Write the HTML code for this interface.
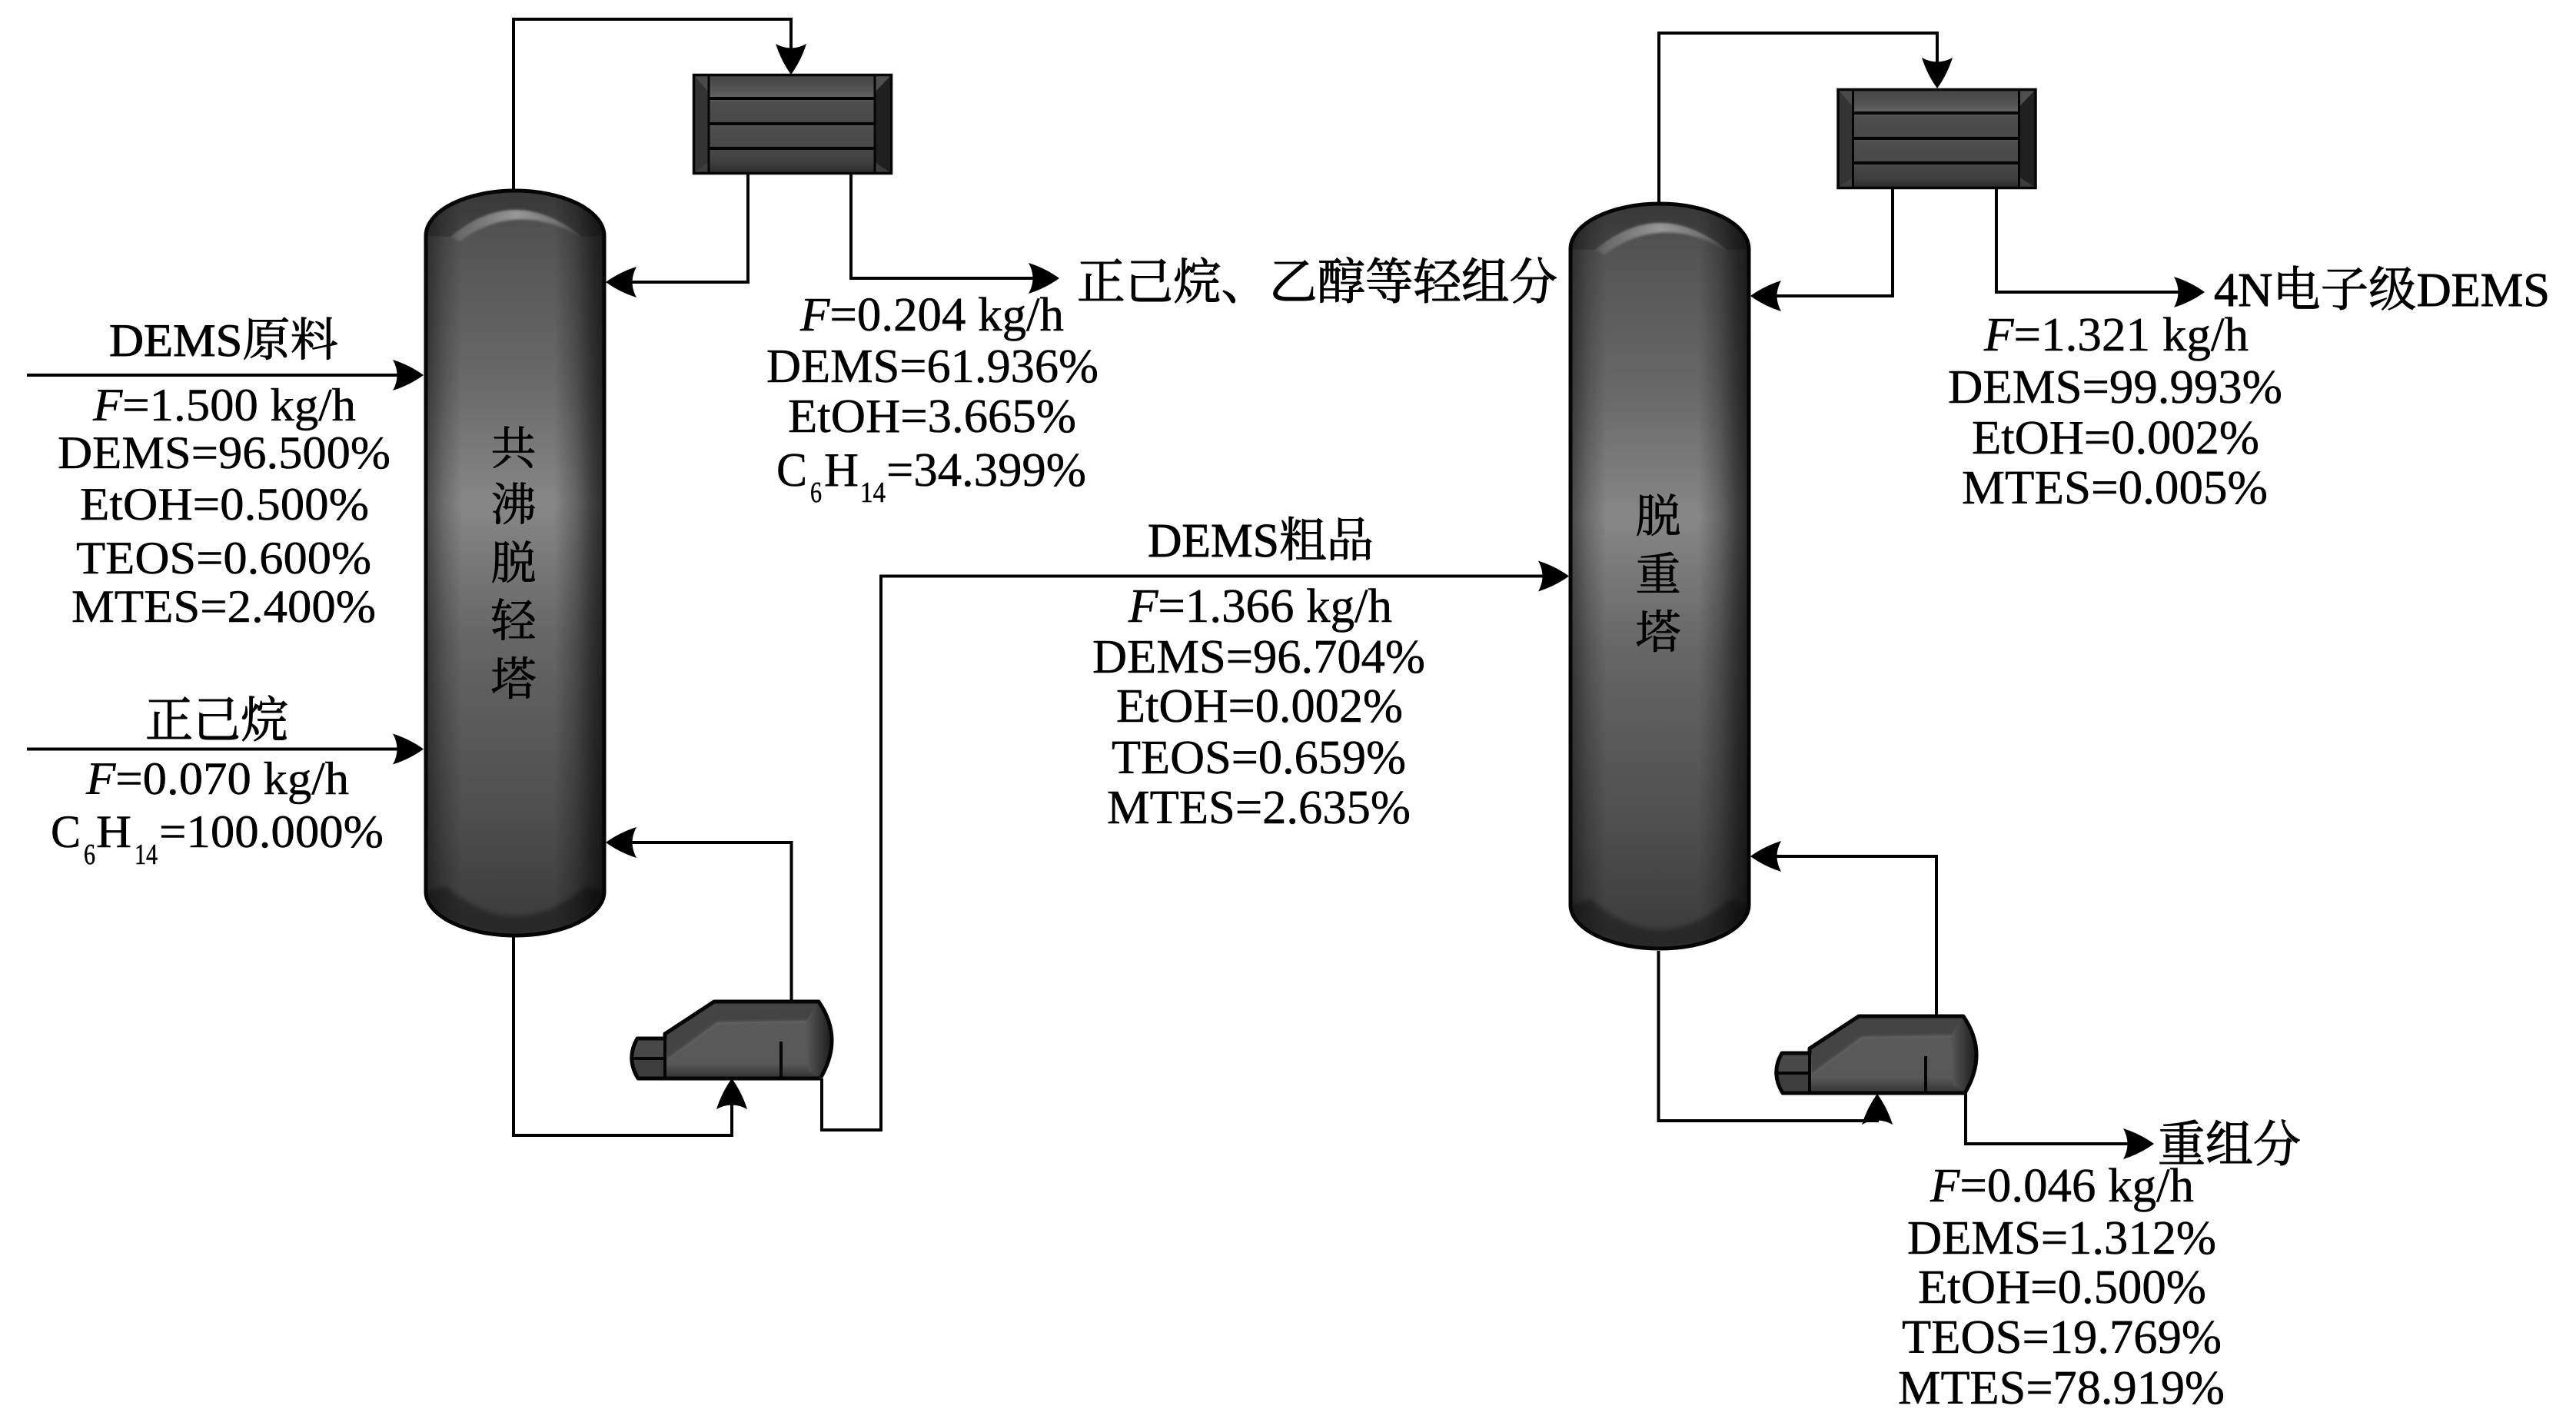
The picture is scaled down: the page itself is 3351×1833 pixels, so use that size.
<!DOCTYPE html>
<html><head><meta charset="utf-8"><title>DEMS flow diagram</title>
<style>
html,body{margin:0;padding:0;background:#fff;width:3351px;height:1833px;overflow:hidden}
svg{display:block}
text{font-family:"Liberation Serif","Noto Serif CJK SC",serif;fill:#000;font-size:62px;stroke:#000;stroke-width:.5px}
.l{font-size:60px}
.s{font-size:38px}
.c{font-size:59px;text-anchor:middle;stroke-width:.8px}
.z{font-size:64px;stroke-width:1.1px}
.p{fill:none;stroke:#000;stroke-width:4;stroke-linejoin:miter}
</style></head><body>
<svg xmlns="http://www.w3.org/2000/svg" width="3351" height="1833" viewBox="0 0 3351 1833">
<defs>
<filter id="b2" x="-10%" y="-10%" width="120%" height="120%"><feGaussianBlur stdDeviation="3"/></filter>
<filter id="b1" x="-10%" y="-10%" width="120%" height="120%"><feGaussianBlur stdDeviation="1.5"/></filter>
<linearGradient id="cv" x1="0" y1="0" x2="0" y2="1">
<stop offset="0" stop-color="#4a4a4a"/><stop offset=".07" stop-color="#585858"/><stop offset=".25" stop-color="#6c6c6c"/><stop offset=".42" stop-color="#8c8c8c"/><stop offset=".6" stop-color="#6a6a6a"/><stop offset=".85" stop-color="#505050"/><stop offset="1" stop-color="#3c3c3c"/>
</linearGradient>
<linearGradient id="ch" x1="0" y1="0" x2="1" y2="0">
<stop offset="0" stop-color="#000" stop-opacity=".5"/><stop offset=".1" stop-color="#000" stop-opacity=".22"/><stop offset=".2" stop-color="#000" stop-opacity=".04"/><stop offset=".72" stop-color="#000" stop-opacity=".04"/><stop offset=".84" stop-color="#000" stop-opacity=".28"/><stop offset=".93" stop-color="#000" stop-opacity=".55"/><stop offset="1" stop-color="#000" stop-opacity=".7"/>
</linearGradient>
<linearGradient id="hl" x1="0" y1="0" x2="1" y2="0">
<stop offset="0" stop-color="#fff" stop-opacity=".08"/><stop offset=".5" stop-color="#fff" stop-opacity=".42"/><stop offset="1" stop-color="#fff" stop-opacity=".08"/>
</linearGradient>
<linearGradient id="t1" x1="0" y1="0" x2="0" y2="1"><stop offset="0" stop-color="#424242"/><stop offset=".7" stop-color="#565656"/><stop offset="1" stop-color="#666"/></linearGradient>
<linearGradient id="t2" x1="0" y1="0" x2="0" y2="1"><stop offset="0" stop-color="#5e5e5e"/><stop offset=".15" stop-color="#4e4e4e"/><stop offset="1" stop-color="#484848"/></linearGradient>
<linearGradient id="t3" x1="0" y1="0" x2="0" y2="1"><stop offset="0" stop-color="#4a4a4a"/><stop offset=".6" stop-color="#3e3e3e"/><stop offset="1" stop-color="#262626"/></linearGradient>
<linearGradient id="rr" x1="0" y1="0" x2="1" y2="0"><stop offset="0" stop-color="#585858"/><stop offset="1" stop-color="#1c1c1c"/></linearGradient>
<linearGradient id="rb" x1="0" y1="0" x2="0" y2="1"><stop offset="0" stop-color="#5c5c5c"/><stop offset=".8" stop-color="#585858"/><stop offset="1" stop-color="#333"/></linearGradient>
<g id="col">
<path d="M2 61A116 59 0 0 1 234 61V914A116 57 0 0 1 2 914Z" fill="url(#cv)"/>
<path d="M2 61A116 59 0 0 1 234 61V914A116 57 0 0 1 2 914Z" fill="url(#ch)"/>
<path d="M4 61A114 57 0 0 1 232 61L205 62Q118 -8 34 62Z" fill="#000" opacity=".2"/>
<path d="M34 62Q118 -8 205 62Q118 14 46 68Z" fill="url(#hl)" filter="url(#b1)"/>
<path d="M3 914A115 56 0 0 0 233 914L210 907Q118 985 28 907Z" fill="#000" opacity=".32" filter="url(#b2)"/>
<path d="M2 61A116 59 0 0 1 234 61V914A116 57 0 0 1 2 914Z" fill="none" stroke="#050505" stroke-width="5"/>
</g>
<g id="cond">
<rect x="0" y="0" width="260" height="131" fill="#1e1e1e"/>
<rect x="21" y="0" width="216" height="32" fill="url(#t1)"/>
<rect x="21" y="32" width="216" height="33" fill="url(#t2)"/>
<rect x="21" y="65" width="216" height="32" fill="url(#t2)"/>
<rect x="21" y="97" width="216" height="34" fill="url(#t3)"/>
<rect x="2" y="2" width="19" height="127" fill="#343434"/>
<rect x="237" y="2" width="21" height="127" fill="#202020"/>
<path d="M2 2L21 24V2Z" fill="#4a4a4a"/>
<path d="M2 129L21 115V129Z" fill="#3e3e3e"/>
<path d="M258 2L237 24V2Z" fill="#4e4e4e"/>
<path d="M258 129L237 115V129Z" fill="#3c3c3c"/>
<g stroke="#050505" fill="none">
<rect x="1.5" y="1.5" width="257" height="128" stroke-width="3.5"/>
<path d="M21 0V131M237 0V131" stroke-width="3"/>
<path d="M21 32H237M21 65H237M21 97H237" stroke-width="4"/>
</g>
</g>
<g id="reb">
<path d="M109 0L245 0Q278 48 247 100L10 100Q-6 74 9 48L45 48L45 42Z" fill="url(#rb)"/>
<path d="M46 42L109 0L245 0L229 25L113 27L48 75Z" fill="#444"/>
<path d="M48 75L113 27L229 25" fill="none" stroke="#6c6c6c" stroke-width="3" opacity=".5" filter="url(#b1)"/>
<path d="M245 0Q278 48 247 100L232 90L229 25Z" fill="url(#rr)"/>
<path d="M9 48L45 48V74H2Q3 60 9 48Z" fill="#484848"/>
<path d="M2 76H45V100H10Q3 90 2 76Z" fill="#3e3e3e"/>
<path d="M109 0L245 0Q278 48 247 100L10 100Q-6 74 9 48L45 48L45 42Z" fill="none" stroke="#050505" stroke-width="5" stroke-linejoin="round"/>
<path d="M45 40V100M196 52V100" fill="none" stroke="#050505" stroke-width="4"/>
<path d="M2 74H45" fill="none" stroke="#050505" stroke-width="4"/>
</g>
<path id="ar" d="M0 0Q-18 -13 -40 -20Q-29 0 -40 20Q-18 13 0 0Z" fill="#000"/>
</defs>

<!-- pipes -->
<polyline class="p" points="668,246 668,25 1029,25 1029,70"/>
<polyline class="p" points="973,227 973,367 815,367"/>
<polyline class="p" points="1107,227 1107,362 1350,362"/>
<polyline class="p" points="1029.5,1303 1029.5,1096 815,1096"/>
<polyline class="p" points="668,1219 668,1477 952,1477 952,1430"/>
<polyline class="p" points="1069,1403 1069,1470 1146,1470 1146,749.5 2010,749.5"/>
<path class="p" d="M35 488H520M35 974.5H520"/>
<polyline class="p" points="2158,263 2158,43 2520,43 2520,90"/>
<polyline class="p" points="2462,245 2462,385 2305,385"/>
<polyline class="p" points="2597,245 2597,380 2840,380"/>
<polyline class="p" points="2519,1322 2519,1114 2305,1114"/>
<polyline class="p" points="2157.5,1237 2157.5,1458 2442,1458 2442,1445"/>
<polyline class="p" points="2557,1422 2557,1488 2775,1488"/>

<use href="#col" x="552" y="246"/>
<use href="#col" x="2041" y="263"/>
<use href="#cond" x="901" y="96"/>
<use href="#cond" x="2389.5" y="115"/>
<use href="#reb" x="820" y="1303"/>
<use href="#reb" x="2309" y="1322"/>

<!-- arrowheads -->
<use href="#ar" transform="translate(551 488)"/>
<use href="#ar" transform="translate(551 974.5)"/>
<use href="#ar" transform="translate(1029 97) rotate(90)"/>
<use href="#ar" transform="translate(788 367) rotate(180)"/>
<use href="#ar" transform="translate(1378 362)"/>
<use href="#ar" transform="translate(788 1096) rotate(180)"/>
<use href="#ar" transform="translate(952 1403) rotate(-90)"/>
<use href="#ar" transform="translate(2041 749.5)"/>
<use href="#ar" transform="translate(2520 115) rotate(90)"/>
<use href="#ar" transform="translate(2277 385) rotate(180)"/>
<use href="#ar" transform="translate(2868 380)"/>
<use href="#ar" transform="translate(2277 1114) rotate(180)"/>
<use href="#ar" transform="translate(2442 1423) rotate(-90)"/>
<use href="#ar" transform="translate(2802 1488)"/>

<!-- column labels -->
<text class="c" x="668" y="604">共</text>
<text class="c" x="668" y="677">沸</text>
<text class="c" x="668" y="753">脱</text>
<text class="c" x="668" y="828">轻</text>
<text class="c" x="668" y="904">塔</text>
<text class="c" x="2157" y="692">脱</text>
<text class="c" x="2157" y="768">重</text>
<text class="c" x="2157" y="843">塔</text>

<!-- feed 1 -->
<text class="l" x="142" y="463" textLength="298" lengthAdjust="spacingAndGlyphs" style="stroke-width:.9px">DEMS原料</text>
<text class="l" x="121" y="547" textLength="342" lengthAdjust="spacingAndGlyphs"><tspan font-style="italic">F</tspan>=1.500 kg/h</text>
<text class="l" x="75" y="609" textLength="433" lengthAdjust="spacingAndGlyphs">DEMS=96.500%</text>
<text class="l" x="104" y="676" textLength="376" lengthAdjust="spacingAndGlyphs">EtOH=0.500%</text>
<text class="l" x="99" y="746" textLength="384" lengthAdjust="spacingAndGlyphs">TEOS=0.600%</text>
<text class="l" x="93" y="809" textLength="396" lengthAdjust="spacingAndGlyphs">MTES=2.400%</text>
<!-- feed 2 -->
<text class="z" x="189" y="959" textLength="186" lengthAdjust="spacingAndGlyphs">正己烷</text>
<text class="l" x="112" y="1033" textLength="342" lengthAdjust="spacingAndGlyphs"><tspan font-style="italic">F</tspan>=0.070 kg/h</text>
<text class="l" x="66" y="1102" textLength="39" lengthAdjust="spacingAndGlyphs">C</text>
<text class="s" x="109" y="1124" textLength="15" lengthAdjust="spacingAndGlyphs">6</text>
<text class="l" x="125" y="1102" textLength="46" lengthAdjust="spacingAndGlyphs">H</text>
<text class="s" x="175" y="1124" textLength="30" lengthAdjust="spacingAndGlyphs">14</text>
<text class="l" x="207" y="1102" textLength="292" lengthAdjust="spacingAndGlyphs">=100.000%</text>
<!-- light -->
<text class="z" x="1401" y="389" textLength="625" lengthAdjust="spacingAndGlyphs">正己烷、乙醇等轻组分</text>
<text x="1041" y="430" textLength="343" lengthAdjust="spacingAndGlyphs"><tspan font-style="italic">F</tspan>=0.204 kg/h</text>
<text x="997" y="497" textLength="432" lengthAdjust="spacingAndGlyphs">DEMS=61.936%</text>
<text x="1025" y="562" textLength="375" lengthAdjust="spacingAndGlyphs">EtOH=3.665%</text>
<text x="1010" y="632" textLength="40" lengthAdjust="spacingAndGlyphs">C</text>
<text class="s" x="1054" y="653" textLength="15" lengthAdjust="spacingAndGlyphs">6</text>
<text x="1072" y="632" textLength="45" lengthAdjust="spacingAndGlyphs">H</text>
<text class="s" x="1119" y="653" textLength="33" lengthAdjust="spacingAndGlyphs">14</text>
<text x="1153" y="632" textLength="260" lengthAdjust="spacingAndGlyphs">=34.399%</text>
<!-- crude -->
<text x="1493" y="724" textLength="294" lengthAdjust="spacingAndGlyphs" style="stroke-width:.9px">DEMS粗品</text>
<text x="1468" y="809" textLength="343" lengthAdjust="spacingAndGlyphs"><tspan font-style="italic">F</tspan>=1.366 kg/h</text>
<text x="1421" y="875" textLength="433" lengthAdjust="spacingAndGlyphs">DEMS=96.704%</text>
<text x="1452" y="939" textLength="373" lengthAdjust="spacingAndGlyphs">EtOH=0.002%</text>
<text x="1446" y="1006" textLength="383" lengthAdjust="spacingAndGlyphs">TEOS=0.659%</text>
<text x="1440" y="1071" textLength="395" lengthAdjust="spacingAndGlyphs">MTES=2.635%</text>
<!-- product -->
<text x="2880" y="398" textLength="437" lengthAdjust="spacingAndGlyphs" style="stroke-width:.9px">4N电子级DEMS</text>
<text x="2581" y="456" textLength="344" lengthAdjust="spacingAndGlyphs"><tspan font-style="italic">F</tspan>=1.321 kg/h</text>
<text x="2534" y="524" textLength="435" lengthAdjust="spacingAndGlyphs">DEMS=99.993%</text>
<text x="2565" y="590" textLength="374" lengthAdjust="spacingAndGlyphs">EtOH=0.002%</text>
<text x="2552" y="655" textLength="398" lengthAdjust="spacingAndGlyphs">MTES=0.005%</text>
<!-- heavy -->
<text class="z" x="2807" y="1511" textLength="186" lengthAdjust="spacingAndGlyphs">重组分</text>
<text x="2511" y="1563" textLength="343" lengthAdjust="spacingAndGlyphs"><tspan font-style="italic">F</tspan>=0.046 kg/h</text>
<text x="2481" y="1631" textLength="402" lengthAdjust="spacingAndGlyphs">DEMS=1.312%</text>
<text x="2495" y="1695" textLength="375" lengthAdjust="spacingAndGlyphs">EtOH=0.500%</text>
<text x="2474" y="1760" textLength="416" lengthAdjust="spacingAndGlyphs">TEOS=19.769%</text>
<text x="2469" y="1826" textLength="425" lengthAdjust="spacingAndGlyphs">MTES=78.919%</text>
</svg>
</body></html>
